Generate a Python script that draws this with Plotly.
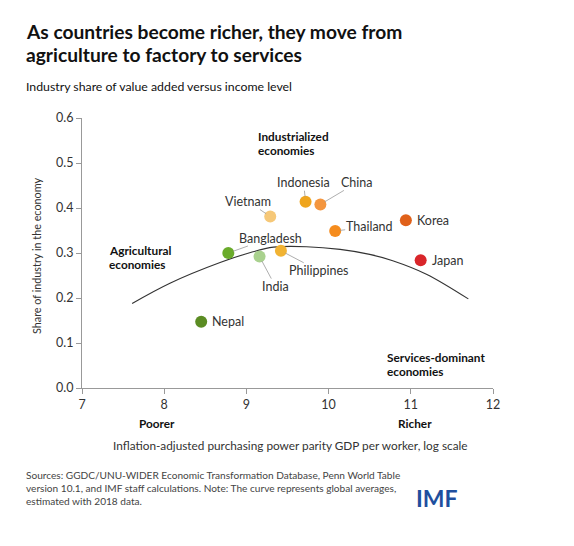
import plotly.graph_objects as go

# ---- data ----
countries = ["Nepal", "Bangladesh", "India", "Philippines", "Vietnam",
             "Indonesia", "China", "Thailand", "Korea", "Japan"]
log_gdp_per_worker = [8.45, 8.78, 9.16, 9.42, 9.29, 9.72, 9.90, 10.08, 10.94, 11.12]
industry_share = [0.147, 0.300, 0.292, 0.305, 0.381, 0.414, 0.408, 0.349, 0.373, 0.284]
colors = ["#5b8c23", "#6aab2b", "#a9d18e", "#f1b333", "#f6c878",
          "#efa51d", "#f4963f", "#f58c1e", "#e0611a", "#d9262a"]

curve_x = [7.61, 8.07, 8.68, 9.05, 9.33, 9.73, 10.14, 10.50, 10.78, 11.19, 11.70]
curve_y = [0.188, 0.233, 0.279, 0.301, 0.313, 0.314, 0.308, 0.297, 0.283, 0.253, 0.198]

x_ticks = [7, 8, 9, 10, 11, 12]
y_ticks = [0.0, 0.1, 0.2, 0.3, 0.4, 0.5, 0.6]

# label placement (pixel offsets of label from its point); None => no leader
label_offsets = {
    "Nepal": None, "Korea": None, "Japan": None,
    "Bangladesh": (42, -15), "India": (16, 30), "Philippines": (38, 20),
    "Vietnam": (-22, -15), "Indonesia": (-2, -19), "China": (37, -22),
    "Thailand": (34, -4),
}

FONT = "Lato"
OFF = 8  # default page body margin
W, H = 574, 546
L, T = 82 - OFF, 118 - OFF
PW, PH = 411, 270
R, B = W - L - PW, H - T - PH


def px(xpix):
    return (xpix - OFF - L) / PW


def py(ypix):
    return (T + PH - (ypix - OFF)) / PH


fig = go.Figure()
fig.add_trace(go.Scatter(x=curve_x, y=curve_y, mode="lines",
                         line=dict(color="#333333", width=1.1, shape="spline"),
                         hoverinfo="skip", showlegend=False))
fig.add_trace(go.Scatter(x=log_gdp_per_worker, y=industry_share, mode="markers",
                         marker=dict(size=12, color=colors, line=dict(width=0)),
                         text=countries, showlegend=False))

lab_font = dict(family=FONT, size=12.5, color="#333333")
ann = []
for c, xv, yv in zip(countries, log_gdp_per_worker, industry_share):
    off = label_offsets[c]
    if off is None:
        ann.append(dict(x=xv, y=yv, xref="x", yref="y", text=c, showarrow=False,
                        xanchor="left", xshift=9, font=lab_font))
    else:
        ann.append(dict(x=xv, y=yv, xref="x", yref="y", text=c, showarrow=True,
                        ax=off[0], ay=off[1], arrowhead=0, arrowwidth=0.8, arrowcolor="#999999",
                        standoff=5, borderpad=0, font=lab_font))

bold = dict(family=FONT, size=11.8, color="#111111")


def two_lines(x, y, l1, l2):
    return [
        dict(x=px(x), y=py(y - 7), xref="paper", yref="paper", xanchor="left", yanchor="middle",
             showarrow=False, text="<b>%s</b>" % l1, font=bold),
        dict(x=px(x), y=py(y + 7), xref="paper", yref="paper", xanchor="left", yanchor="middle",
             showarrow=False, text="<b>%s</b>" % l2, font=bold),
    ]


ann += two_lines(256, 143, "Industrialized", "economies")
ann += two_lines(107, 257, "Agricultural", "economies")
ann += two_lines(385, 364.5, "Services-dominant", "economies")
ann += [
    dict(x=px(157), y=py(423), xref="paper", yref="paper", xanchor="center", yanchor="middle",
         showarrow=False, text="<b>Poorer</b>", font=bold),
    dict(x=px(415), y=py(423), xref="paper", yref="paper", xanchor="center", yanchor="middle",
         showarrow=False, text="<b>Richer</b>", font=bold),
    dict(x=px(290), y=py(445), xref="paper", yref="paper", xanchor="center", yanchor="middle",
         showarrow=False, text="Inflation-adjusted purchasing power parity GDP per worker, log scale",
         font=dict(family=FONT, size=11.8, color="#333333")),
    dict(x=px(36), y=py(256), xref="paper", yref="paper", xanchor="center", yanchor="middle",
         showarrow=False, textangle=-90, text="Share of industry in the economy",
         font=dict(family=FONT, size=10.8, color="#333333")),
    dict(x=px(24), y=py(31), xref="paper", yref="paper", xanchor="left", yanchor="middle", align="left",
         showarrow=False, text="<b>As countries become richer, they move from</b>",
         font=dict(family=FONT, size=19.2, color="#111111")),
    dict(x=px(24), y=py(55), xref="paper", yref="paper", xanchor="left", yanchor="middle", align="left",
         showarrow=False, text="<b>agriculture to factory to services</b>",
         font=dict(family=FONT, size=19.2, color="#111111")),
    dict(x=px(24), y=py(87), xref="paper", yref="paper", xanchor="left", yanchor="middle", align="left",
         showarrow=False, text="Industry share of value added versus income level",
         font=dict(family=FONT, size=12.3, color="#111111")),
    dict(x=px(24), y=py(488), xref="paper", yref="paper", xanchor="left", yanchor="middle", align="left",
         showarrow=False,
         text="Sources: GGDC/UNU-WIDER Economic Transformation Database, Penn World Table<br>"
              "version 10.1, and IMF staff calculations. Note: The curve represents global averages,<br>"
              "estimated with 2018 data.",
         font=dict(family=FONT, size=10.1, color="#444444")),
    dict(x=px(437), y=py(498), xref="paper", yref="paper", xanchor="center", yanchor="middle",
         showarrow=False, text="<b>IMF</b>", font=dict(family=FONT, size=23, color="#1f4f9e")),
]

axis_common = dict(showgrid=False, zeroline=False, showline=True, linecolor="#999999", linewidth=1,
                   ticks="outside", tickcolor="#999999", ticklen=5,
                   tickfont=dict(family=FONT, size=12.5, color="#333333"))
fig.update_layout(
    width=W, height=H, margin=dict(l=L, r=R, t=T, b=B),
    paper_bgcolor="white", plot_bgcolor="white",
    xaxis=dict(range=[7, 12], tickvals=x_ticks, **axis_common),
    yaxis=dict(range=[0, 0.6], tickvals=y_ticks, tickformat=".1f", **axis_common),
    annotations=ann, font=dict(family=FONT),
)
fig.write_html("out.html")
